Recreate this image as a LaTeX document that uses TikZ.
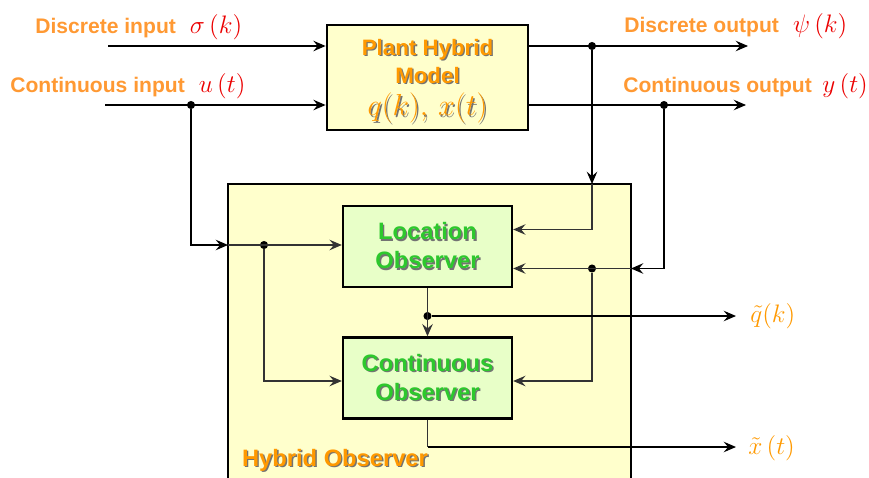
\documentclass[tikz,border=0pt]{standalone}
\usepackage{fontspec}
\setsansfont{Liberation Sans}
\usepackage{amsmath}
\usepackage{tikz}
\usetikzlibrary{arrows.meta}

\definecolor{lblorange}{RGB}{255,153,51}
\definecolor{txtorange}{RGB}{255,153,0}
\definecolor{obsgreen}{RGB}{45,200,45}
\definecolor{plantfill}{RGB}{255,255,204}
\definecolor{obsfill}{RGB}{232,255,200}
\definecolor{sigred}{RGB}{235,0,0}

% text with a small dark drop shadow
\newcommand{\sh}[1]{\makebox[0pt][l]{\kern0.8pt\raisebox{-0.8pt}{\color{black!55}#1}}#1}

\tikzset{
  block/.style={draw, line width=1.6pt, align=center, inner sep=0pt},
  plantbox/.style={block, fill=plantfill, minimum width=4.02cm, minimum height=2.1cm,
    text=txtorange, font=\sffamily\bfseries\fontsize{12.7}{15.5}\selectfont},
  obsbox/.style={block, fill=obsfill, minimum width=3.38cm, minimum height=1.62cm,
    line width=1.4pt, text=obsgreen, font=\sffamily\bfseries\fontsize{13.5}{16}\selectfont},
  lbl/.style={inner sep=0pt, text=lblorange, font=\sffamily\bfseries\fontsize{12}{14}\selectfont},
  dot/.style={circle, fill, inner sep=0pt, minimum size=4.6pt},
  wire/.style={line width=0.8pt},
  iwire/.style={line width=0.6pt, black!80}
}

\begin{document}
\begin{tikzpicture}[x=0.02cm, y=-0.02cm, >={Stealth[length=7pt,width=6pt,inset=2.5pt]}]
  \useasboundingbox (0,0) rectangle (869,477);
  \clip (0,0) rectangle (869,477);

  % hybrid observer frame
  \draw[line width=1.6pt, fill=plantfill] (228,184) rectangle (631,530);
  \node[lbl, text=txtorange, font=\sffamily\bfseries\fontsize{13.5}{16}\selectfont] (hoblbl) at (335,461) {\sh{Hybrid Observer}};

  % blocks
  \node[plantbox] (plant) at (427.5,77.5) {\rule{0pt}{14pt}\sh{Plant Hybrid}\\[0.5pt] \sh{Model}\\[3pt] {\fontsize{16}{18}\selectfont\sh{$q(k),\,x(t)$}}};
  \node[obsbox] (loc) at (427.5,246.5) {\sh{Location}\\[0.5pt] \sh{Observer}};
  \node[obsbox] (cobs) at (427.5,378) {\sh{Continuous}\\[0.5pt] \sh{Observer}};

  % signal labels
  \node[lbl, anchor=west] (dinlbl) at (35,27) {Discrete input\hspace{8pt}\textcolor{sigred}{\Large$\sigma\,(k)$}};
  \node[lbl, anchor=west] (cinlbl) at (10,86) {Continuous input\hspace{8pt}\textcolor{sigred}{\Large$u\,(t)$}};
  \node[lbl, anchor=west] (doutlbl) at (624,26) {Discrete output\hspace{8pt}\textcolor{sigred}{\Large$\psi\,(k)$}};
  \node[lbl, anchor=west] (coutlbl) at (623,86) {Continuous output\hspace{6pt}\textcolor{sigred}{\Large$y\,(t)$}};
  \node[lbl, anchor=west, text=txtorange] (qlbl) at (750,316) {\fontsize{14}{16}\selectfont$\tilde{q}(k)$};
  \node[lbl, anchor=west, text=txtorange] (xlbl) at (748,448) {\fontsize{14}{16}\selectfont$\tilde{x}\,(t)$};

  % free ends and corners
  \coordinate (din) at (108,46);
  \coordinate (cin) at (105,105);
  \coordinate (dout) at (748,46);
  \coordinate (cout) at (746,105);
  \coordinate (htop) at (592,184);
  \coordinate (hleft) at (228,245);
  \coordinate (hright) at (631,268.5);
  \coordinate (qout) at (736,316);
  \coordinate (xout) at (736,447);
  \coordinate (xbend) at (427.5,447);

  % junctions
  \node[dot] (uj) at (191,105) {};
  \node[dot] (pj) at (592,46) {};
  \node[dot] (yj) at (664,105) {};
  \node[dot] (lj) at (264,245) {};
  \node[dot] (rj) at (592,268.5) {};
  \node[dot] (qj) at (427.5,316) {};

  % plant inputs and outputs
  \draw[wire,->] (din) -- (din -| plant.west);
  \draw[wire,->] (cin) -- (cin -| plant.west);
  \draw[wire,->] (plant.east |- dout) -- (dout);
  \draw[wire,->] (plant.east |- cout) -- (cout);

  % into the hybrid observer
  \draw[wire,->] (uj) |- (hleft);
  \draw[wire,->] (pj) -- (htop);
  \draw[wire,->] (yj) |- (hright);

  % inside the hybrid observer
  \draw[iwire,->] (hleft) -- (hleft -| loc.west);
  \draw[iwire,->] (lj) |- (cobs.west |- 0,381);
  \draw[iwire,->] (htop) |- (loc.east |- 0,229.5);
  \draw[iwire,->] (hright) -- (hright -| loc.east);
  \draw[iwire,->] (rj) |- (cobs.east |- 0,381);
  \draw[iwire,->] (loc.south) -- (cobs.north);
  \draw[wire,->] (qj) -- (qout);
  \draw[iwire] (cobs.south) -- (xbend);
  \draw[wire,->] (xbend) -- (xout);
\end{tikzpicture}
\end{document}
